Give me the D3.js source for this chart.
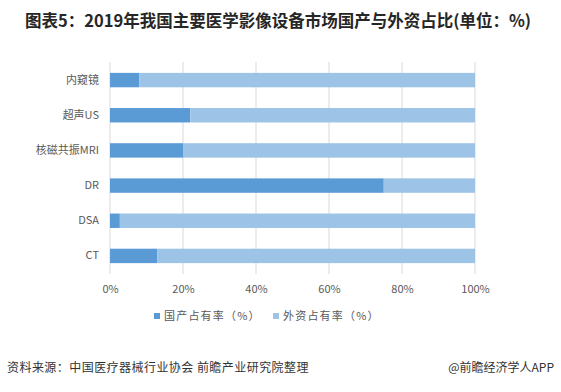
<!DOCTYPE html>
<html><head><meta charset="utf-8">
<script src="https://cdn.jsdelivr.net/npm/d3@7"></script>
<style>body{margin:0;background:#fff}svg{display:block;font-family:"Microsoft YaHei","Noto Sans CJK SC",sans-serif}</style>
</head><body><svg id="c" width="561" height="392"></svg>
<script>
const categories = ["内窥镜","超声US","核磁共振MRI","DR","DSA","CT"];
const domestic = [8, 22, 20, 75, 2.7, 13];
const foreign = domestic.map(d => 100 - d);
const seriesNames = ["国产占有率（%）","外资占有率（%）"];
const tickValues = [0,20,40,60,80,100];
const colors = ["#5B9BD5","#9DC3E6"];

const svg = d3.select("#c");
const x = d3.scaleLinear().domain([0,100]).range([110,475]);
const y = d3.scaleBand().domain(categories).range([62.5,273.5]).paddingInner(0.59).paddingOuter(0.295);

svg.append("text").attr("x",278).attr("y",27).attr("text-anchor","middle")
  .attr("font-size",16.5).attr("font-weight","bold").attr("fill","#262626")
  .text("图表5：2019年我国主要医学影像设备市场国产与外资占比(单位：%)");

// grid
svg.append("g").selectAll("line").data(tickValues).join("line")
  .attr("x1",d=>x(d)).attr("x2",d=>x(d)).attr("y1",62).attr("y2",274)
  .attr("stroke","#d9d9d9").attr("stroke-width",1);

const stack = categories.map((c,i)=>({c, parts:[[0,domestic[i]],[domestic[i],domestic[i]+foreign[i]]]}));
const g = svg.append("g");
stack.forEach(s=>{
  s.parts.forEach((p,j)=>{
    g.append("rect").attr("x",x(p[0])).attr("width",x(p[1])-x(p[0]))
      .attr("y",y(s.c)).attr("height",y.bandwidth()).attr("fill",colors[j]);
  });
});

// y labels
const ya = svg.append("g").attr("transform","translate(110,0)")
  .call(d3.axisLeft(y).tickSize(0).tickPadding(11));
ya.select(".domain").remove();
ya.selectAll("text").attr("font-size",11).attr("fill","#595959").attr("font-family","Microsoft YaHei, Noto Sans CJK SC, sans-serif");

// x labels
const xa = svg.append("g").attr("transform","translate(0,283)")
  .call(d3.axisBottom(x).tickValues(tickValues).tickFormat(d=>d+"%").tickSize(0).tickPadding(2));
xa.select(".domain").remove();
xa.selectAll("text").attr("font-size",11).attr("fill","#595959").attr("font-family","Microsoft YaHei, Noto Sans CJK SC, sans-serif");

// legend
const lx = [154, 273];
seriesNames.forEach((n,i)=>{
  svg.append("rect").attr("x",lx[i]).attr("y",313).attr("width",6).attr("height",6).attr("fill",colors[i]);
  svg.append("text").attr("x",lx[i]+10).attr("y",320).attr("font-size",11).attr("letter-spacing",1.2).attr("fill","#595959").text(n);
});

// footer
svg.append("text").attr("x",7).attr("y",372).attr("font-size",12).attr("letter-spacing",0.45).attr("fill","#333").text("资料来源：中国医疗器械行业协会 前瞻产业研究院整理");
svg.append("text").attr("x",554).attr("y",372).attr("text-anchor","end").attr("font-size",12).attr("fill","#333").text("@前瞻经济学人APP");
</script></body></html>
